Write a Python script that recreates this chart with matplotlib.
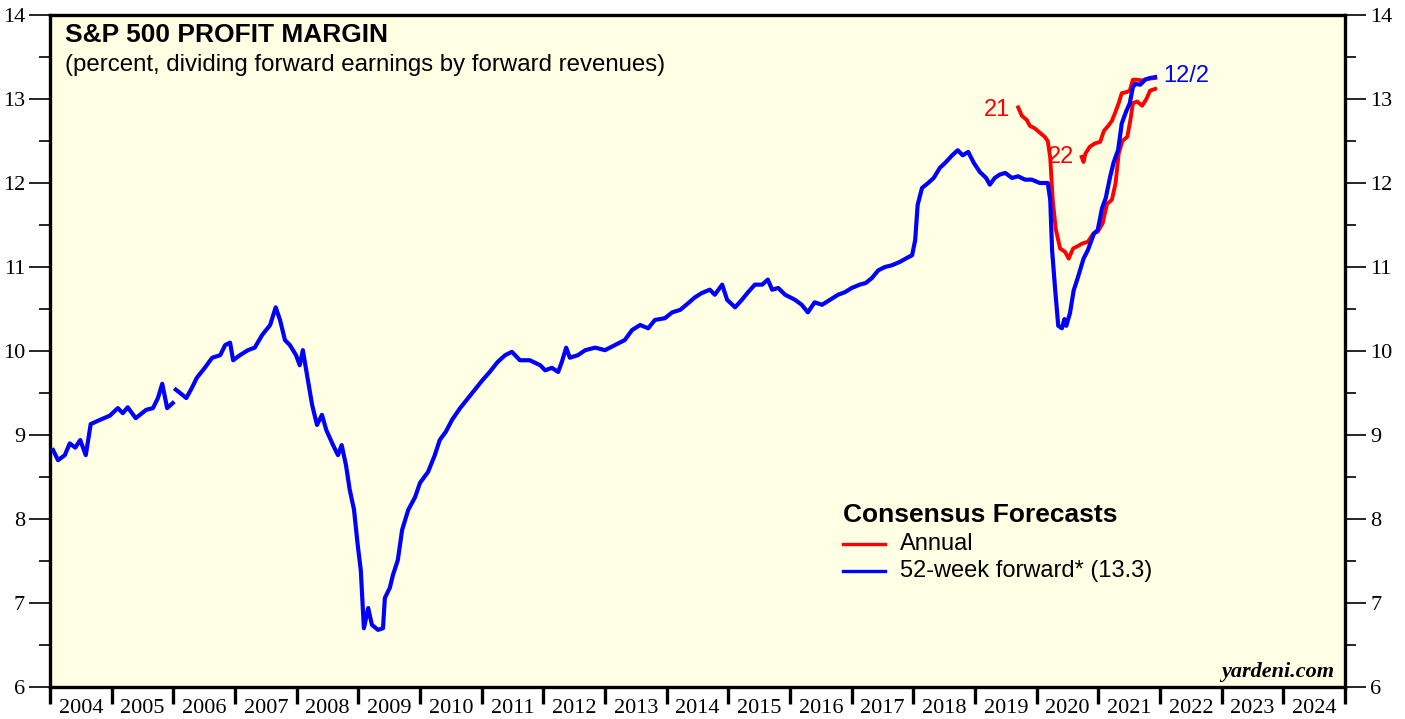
import numpy as np
import matplotlib
matplotlib.use('Agg')
import matplotlib.pyplot as plt
from matplotlib.ticker import MultipleLocator, FixedLocator, NullFormatter

# 52-week forward profit margin (decimal years, percent); NaN = gap in the series
fwd_year = [2004.05, 2004.13, 2004.24, 2004.32, 2004.41, 2004.49, 2004.58, 2004.66, 2004.81, 2004.97,
            2005.10, 2005.18, 2005.26, 2005.39, 2005.56, 2005.67, 2005.75, 2005.82, 2005.90, 2005.99,
            2006.01,
            2006.04, 2006.11, 2006.21, 2006.30, 2006.38, 2006.51, 2006.63, 2006.76, 2006.84, 2006.92,
            2006.97, 2007.08, 2007.21, 2007.32, 2007.44, 2007.57, 2007.66, 2007.73, 2007.81, 2007.89,
            2007.99, 2008.05, 2008.10, 2008.17, 2008.25, 2008.33, 2008.41, 2008.48, 2008.59, 2008.67,
            2008.73, 2008.80, 2008.86, 2008.93, 2008.99, 2009.04, 2009.09, 2009.16, 2009.22, 2009.32,
            2009.40, 2009.43, 2009.51, 2009.56, 2009.64, 2009.71, 2009.81, 2009.92, 2010.00, 2010.13,
            2010.24, 2010.32, 2010.42, 2010.52, 2010.65, 2010.78, 2010.89, 2011.01, 2011.13, 2011.26,
            2011.38, 2011.49, 2011.62, 2011.78, 2011.95, 2012.03, 2012.14, 2012.24, 2012.30, 2012.37,
            2012.43, 2012.56, 2012.68, 2012.84, 2013.00, 2013.16, 2013.32, 2013.44, 2013.57, 2013.70,
            2013.81, 2013.97, 2014.09, 2014.22, 2014.35, 2014.46, 2014.57, 2014.70, 2014.78, 2014.90,
            2014.98, 2015.11, 2015.22, 2015.32, 2015.43, 2015.55, 2015.64, 2015.71, 2015.81, 2015.92,
            2016.08, 2016.19, 2016.29, 2016.40, 2016.52, 2016.65, 2016.78, 2016.89, 2017.00, 2017.13,
            2017.23, 2017.33, 2017.43, 2017.54, 2017.65, 2017.78, 2017.90, 2017.98, 2018.03, 2018.07,
            2018.14, 2018.24, 2018.33, 2018.43, 2018.53, 2018.63, 2018.72, 2018.80, 2018.89, 2018.98,
            2019.08, 2019.18, 2019.24, 2019.32, 2019.40, 2019.49, 2019.60, 2019.70, 2019.81, 2019.92,
            2020.05, 2020.18, 2020.22, 2020.25, 2020.30, 2020.35, 2020.41, 2020.45, 2020.48, 2020.54,
            2020.60, 2020.67, 2020.76, 2020.83, 2020.93, 2020.99, 2021.06, 2021.12, 2021.19, 2021.25,
            2021.32, 2021.38, 2021.45, 2021.51, 2021.56, 2021.60, 2021.68, 2021.76, 2021.84, 2021.92]
fwd_margin = [8.82, 8.70, 8.76, 8.90, 8.85, 8.94, 8.76, 9.13, 9.18, 9.23,
              9.32, 9.26, 9.33, 9.20, 9.30, 9.32, 9.44, 9.61, 9.32, 9.38,
              np.nan,
              9.54, 9.50, 9.44, 9.56, 9.68, 9.80, 9.92, 9.95, 10.07, 10.10,
              9.89, 9.95, 10.01, 10.04, 10.19, 10.31, 10.52, 10.37, 10.13, 10.07,
              9.95, 9.83, 10.01, 9.71, 9.36, 9.12, 9.24, 9.06, 8.88, 8.76,
              8.88, 8.64, 8.35, 8.11, 7.69, 7.39, 6.70, 6.94, 6.74, 6.68,
              6.70, 7.06, 7.18, 7.33, 7.51, 7.87, 8.11, 8.26, 8.43, 8.56,
              8.76, 8.94, 9.04, 9.18, 9.32, 9.44, 9.54, 9.65, 9.75, 9.87,
              9.95, 9.99, 9.89, 9.89, 9.83, 9.77, 9.80, 9.75, 9.87, 10.04,
              9.92, 9.95, 10.01, 10.04, 10.01, 10.07, 10.13, 10.25, 10.31, 10.27,
              10.37, 10.39, 10.46, 10.49, 10.57, 10.64, 10.69, 10.73, 10.67, 10.79,
              10.61, 10.52, 10.61, 10.70, 10.79, 10.79, 10.85, 10.73, 10.75, 10.67,
              10.61, 10.55, 10.46, 10.58, 10.55, 10.61, 10.67, 10.70, 10.75, 10.79,
              10.81, 10.87, 10.96, 11.00, 11.02, 11.06, 11.11, 11.14, 11.32, 11.74,
              11.94, 12.00, 12.06, 12.18, 12.25, 12.33, 12.39, 12.33, 12.37, 12.24,
              12.13, 12.06, 11.98, 12.06, 12.10, 12.12, 12.06, 12.08, 12.04, 12.04,
              12.00, 12.00, 11.80, 11.20, 10.73, 10.30, 10.27, 10.38, 10.30, 10.45,
              10.72, 10.88, 11.10, 11.20, 11.40, 11.44, 11.70, 11.82, 12.07, 12.25,
              12.39, 12.71, 12.85, 12.95, 13.14, 13.18, 13.17, 13.23, 13.25, 13.26]

# Annual consensus for 2021
ann21_year = [2019.70, 2019.76, 2019.84, 2019.89, 2019.97, 2020.05, 2020.13, 2020.18, 2020.22, 2020.26,
              2020.31, 2020.38, 2020.46, 2020.52, 2020.59, 2020.67, 2020.74, 2020.83, 2020.92, 2020.99,
              2021.07, 2021.14, 2021.22, 2021.28, 2021.33, 2021.39, 2021.47, 2021.52, 2021.56, 2021.63,
              2021.71, 2021.78, 2021.84, 2021.92]
ann21_margin = [12.90, 12.80, 12.75, 12.68, 12.65, 12.60, 12.55, 12.50, 12.30, 11.80,
                11.45, 11.22, 11.18, 11.10, 11.22, 11.25, 11.28, 11.30, 11.40, 11.42,
                11.52, 11.75, 11.80, 12.00, 12.35, 12.50, 12.55, 12.75, 12.95, 12.97,
                12.92, 13.00, 13.10, 13.12]

# Annual consensus for 2022
ann22_year = [2020.73, 2020.76, 2020.79, 2020.86, 2020.94, 2021.03, 2021.09, 2021.16, 2021.22, 2021.28,
              2021.33, 2021.38, 2021.45, 2021.51, 2021.56, 2021.63, 2021.71, 2021.79, 2021.92]
ann22_margin = [12.31, 12.25, 12.35, 12.43, 12.47, 12.49, 12.62, 12.68, 12.74, 12.85,
                12.95, 13.07, 13.08, 13.10, 13.23, 13.23, 13.22, 13.24, 13.25]

years = list(range(2004, 2025))

serif = ['Liberation Serif', 'DejaVu Serif']
sans = ['Liberation Sans', 'DejaVu Sans']

fig = plt.figure(figsize=(14.05, 7.19), dpi=100)
ax = fig.add_axes([50 / 1405, 32 / 719, 1295 / 1405, 672 / 719])
ax.set_facecolor('#FFFFE3')

ax.plot(ann21_year, ann21_margin, color='#FF0000', lw=2.8, zorder=3)
ax.plot(ann22_year, ann22_margin, color='#FF0000', lw=2.8, zorder=3)
ax.plot(fwd_year, fwd_margin, color='#0000FF', lw=3.0, zorder=4)

ax.set_xlim(2004, 2025)
ax.set_ylim(6, 14)

for s in ax.spines.values():
    s.set_linewidth(2.4)

# x axis: ticks at year boundaries, labels centred in each year
ax.xaxis.set_major_locator(FixedLocator(list(range(2004, 2026))))
ax.xaxis.set_major_formatter(NullFormatter())
ax.xaxis.set_minor_locator(FixedLocator([y + 0.5 for y in years]))
ax.set_xticklabels([str(y) for y in years], minor=True)
ax.tick_params(axis='x', which='major', direction='out', length=12.5, width=2.4)
ax.tick_params(axis='x', which='minor', length=0, pad=8.5)
for lab in ax.get_xticklabels(minor=True):
    lab.set_fontfamily(serif)
    lab.set_fontsize(16)

# y axis on both sides
ax.yaxis.set_major_locator(MultipleLocator(1))
ax.yaxis.set_minor_locator(MultipleLocator(0.5))
ax.tick_params(axis='y', which='both', left=True, right=True, labelleft=True, labelright=True,
               direction='out')
ax.tick_params(axis='y', which='major', length=15, width=1.2, pad=3)
ax.tick_params(axis='y', which='minor', length=8, width=1.2)
for lab in ax.get_yticklabels():
    lab.set_fontfamily(serif)
    lab.set_fontsize(16)

# titles
ax.text(0.0116, 0.970, 'S&P 500 PROFIT MARGIN', transform=ax.transAxes, fontsize=19,
        fontweight='bold', family=sans, va='center', ha='left')
ax.text(0.0116, 0.926, '(percent, dividing forward earnings by forward revenues)',
        transform=ax.transAxes, fontsize=17.3, family=sans, va='center', ha='left')

# annotations
ax.text(2019.57, 12.87, '21', color='#FF0000', fontsize=17, family=sans, ha='right', va='center')
ax.text(2020.61, 12.31, '22', color='#FF0000', fontsize=17, family=sans, ha='right', va='center')
ax.text(2022.05, 13.27, '12/2', color='#0000FF', fontsize=17, family=sans, ha='left', va='center')

# legend
ax.text(0.612, 0.256, 'Consensus Forecasts', transform=ax.transAxes, fontsize=19,
        fontweight='bold', family=sans, va='center', ha='left')
ax.plot([0.612, 0.645], [0.213, 0.213], transform=ax.transAxes, color='#FF0000', lw=2.4)
ax.plot([0.612, 0.645], [0.173, 0.173], transform=ax.transAxes, color='#0000FF', lw=2.4)
ax.text(0.656, 0.213, 'Annual', transform=ax.transAxes, fontsize=17, family=sans,
        va='center', ha='left')
ax.text(0.656, 0.173, '52-week forward* (13.3)', transform=ax.transAxes, fontsize=17,
        family=sans, va='center', ha='left')

ax.text(0.992, 0.022, 'yardeni.com', transform=ax.transAxes, fontsize=16, family=serif,
        fontweight='bold', fontstyle='italic', ha='right', va='center')

fig.savefig('out.png', dpi=100)
